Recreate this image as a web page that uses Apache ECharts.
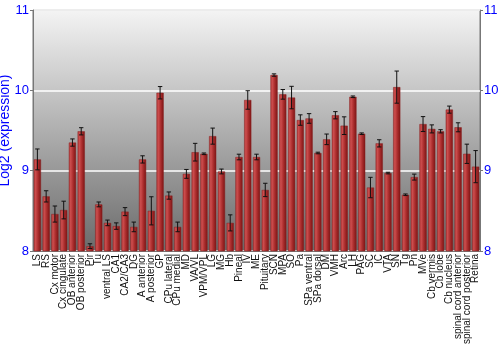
<!DOCTYPE html>
<html>
<head>
<meta charset="utf-8">
<script src="https://cdn.jsdelivr.net/npm/echarts@6/dist/echarts.min.js"></script>
<style>html,body{margin:0;padding:0;background:#fff}#c{width:500px;height:350px}</style>
</head>
<body>
<div id="c"></div>
<script>
const categories = ["LS","RS","Cx motor","Cx cingulate","OB anterior","OB posterior","Pir","Tu","ventral LS","CA1","CA2/CA3","DG","A anterior","A posterior","GP","CPu lateral","CPu medial","MD","VA/VL","VPM/VPL","LG","MG","Hb","Pineal","IV","ME","Pituitary","SCN","MPA","SO","Pa","SPa ventral","SPa dorsal","DM","VMH","Arc","LH","PAG","SC","IC","VTA","SN","Tg","Pn","MVe","Cb vermis","Cb lobe","Cb nucleus","spinal cord anterior","spinal cord posterior","Retina"];
const means = [9.14,8.68,8.46,8.51,9.35,9.49,8.06,8.58,8.35,8.31,8.49,8.30,9.14,8.50,9.97,8.69,8.30,8.96,9.23,9.21,9.43,8.99,8.35,9.17,9.88,9.17,8.76,10.19,9.95,9.91,9.63,9.65,9.22,9.39,9.69,9.56,9.92,9.46,8.79,9.34,8.97,10.04,8.70,8.92,9.58,9.52,9.49,9.76,9.54,9.21,9.05];
const errors = [0.13,0.07,0.10,0.11,0.045,0.045,0.03,0.03,0.035,0.04,0.05,0.06,0.045,0.175,0.077,0.045,0.06,0.055,0.11,0.01,0.10,0.03,0.10,0.035,0.115,0.035,0.083,0.015,0.06,0.14,0.065,0.06,0.01,0.066,0.045,0.11,0.01,0.01,0.127,0.045,0.01,0.20,0.01,0.037,0.093,0.05,0.02,0.044,0.056,0.12,0.20];
const yMin = 8, yMax = 11, yStep = 1;
const yTitle = "Log2 (expression)";

const errData = means.map((m, i) => [i, m - errors[i], m + errors[i]]);

const chart = echarts.init(document.getElementById('c'), null, {renderer: 'canvas'});
const axisColor = '#777';
const yAxisCommon = {
  type: 'value', min: yMin, max: yMax, interval: yStep,
  axisLine: {show: true, lineStyle: {color: axisColor}},
  axisTick: {show: true, length: 3, lineStyle: {color: axisColor}},
  axisLabel: {color: '#0000ff', fontSize: 13, fontFamily: 'Liberation Sans, Arial', margin: 4},
};
chart.setOption({
  animation: false,
  grid: {left: 33, right: 20, top: 10, bottom: 99, show: true, borderWidth: 1, borderColor: axisColor,
    containLabel: false, outerBoundsMode: 'none',
    backgroundColor: {type: 'linear', x: 0, y: 0, x2: 0, y2: 1, colorStops: [
      {offset: 0, color: '#f4f4f4'}, {offset: 1, color: '#6a6a6a'}]}},
  xAxis: {
    type: 'category', data: categories,
    axisLine: {show: true, lineStyle: {color: axisColor}},
    axisTick: {show: false},
    axisLabel: {interval: 0, rotate: 90, fontSize: 10, color: '#111', fontFamily: 'Liberation Sans, Arial', margin: 3}
  },
  yAxis: [
    Object.assign({}, yAxisCommon, {position: 'left', name: yTitle, nameLocation: 'middle', nameGap: 21,
      nameMoveOverlap: false,
      nameTextStyle: {color: '#0000ff', fontSize: 14, fontFamily: 'Liberation Sans, Arial'},
      splitLine: {show: true, lineStyle: {color: '#ffffff', width: 1.5}}}),
    Object.assign({}, yAxisCommon, {position: 'right', splitLine: {show: false}})
  ],
  series: [
    {
      type: 'bar', data: means, barCategoryGap: '18%',
      itemStyle: {
        color: {type: 'linear', x: 0, y: 0, x2: 1, y2: 0, colorStops: [
          {offset: 0, color: '#b13a3a'}, {offset: 0.25, color: '#cc4d4d'},
          {offset: 0.6, color: '#a92c2c'}, {offset: 1, color: '#7a1414'}]},
        borderColor: '#8a2020', borderWidth: 0.5
      }
    },
    {
      type: 'custom', data: errData, z: 10,
      renderItem: function (params, api) {
        const x = api.value(0);
        const lo = api.coord([x, api.value(1)]);
        const hi = api.coord([x, api.value(2)]);
        const hw = 2.2;
        const style = {stroke: '#111', lineWidth: 1};
        return {type: 'group', children: [
          {type: 'line', shape: {x1: lo[0], y1: lo[1], x2: hi[0], y2: hi[1]}, style},
          {type: 'line', shape: {x1: lo[0]-hw, y1: lo[1], x2: lo[0]+hw, y2: lo[1]}, style},
          {type: 'line', shape: {x1: hi[0]-hw, y1: hi[1], x2: hi[0]+hw, y2: hi[1]}, style}
        ]};
      }
    }
  ]
});
</script>
</body>
</html>
